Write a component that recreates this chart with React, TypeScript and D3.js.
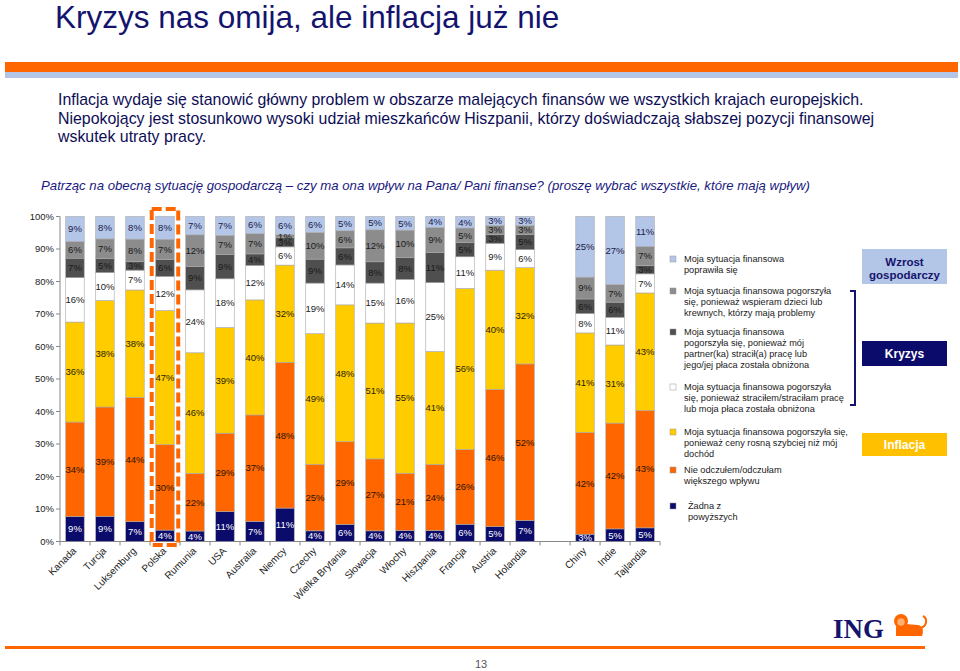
import React from 'react';
import * as d3 from 'd3';

const countries = ["Kanada", "Turcja", "Luksemburg", "Polska", "Rumunia", "USA", "Australia", "Niemcy", "Czechy", "Wielka Brytania", "Słowacja", "Włochy", "Hiszpania", "Francja", "Austria", "Holandia", "Chiny", "Indie", "Tajlandia"];
const slotOrder = ["Kanada", "Turcja", "Luksemburg", "Polska", "Rumunia", "USA", "Australia", "Niemcy", "Czechy", "Wielka Brytania", "Słowacja", "Włochy", "Hiszpania", "Francja", "Austria", "Holandia", "__gap__", "Chiny", "Indie", "Tajlandia"];

const noneOf = [9, 9, 7, 4, 4, 11, 7, 11, 4, 6, 4, 4, 4, 6, 5, 7, 3, 5, 5];
const noImpact = [34, 39, 44, 30, 22, 29, 37, 48, 25, 29, 27, 21, 24, 26, 46, 52, 42, 42, 43];
const inflation = [36, 38, 38, 47, 46, 39, 40, 32, 49, 48, 51, 55, 41, 56, 40, 32, 41, 31, 43];
const jobLoss = [16, 10, 7, 12, 24, 18, 12, 6, 19, 14, 15, 16, 25, 11, 9, 6, 8, 11, 7];
const partnerLoss = [7, 5, 3, 6, 9, 9, 4, 3, 9, 6, 8, 8, 11, 5, 3, 5, 6, 6, 3];
const supportFamily = [6, 7, 8, 7, 12, 7, 7, 1, 10, 6, 12, 10, 9, 5, 3, 3, 9, 7, 7];
const improved = [9, 8, 8, 8, 7, 7, 6, 6, 6, 5, 5, 5, 4, 4, 3, 3, 25, 27, 11];

const seriesKeys = ["noneOf", "noImpact", "inflation", "jobLoss", "partnerLoss", "supportFamily", "improved"];
const seriesValues = [noneOf, noImpact, inflation, jobLoss, partnerLoss, supportFamily, improved];
const seriesColors = ["#0b0b6b", "#ff6600", "#ffcc00", "#ffffff", "#4f4f4f", "#8c8c8c", "#b4c6e7"];
const labelColors = ["#ffffff", "#2a1400", "#2a2200", "#222222", "#1a1a1a", "#1a1a1a", "#1a1a4a"];

const yTicks = [0, 0.1, 0.2, 0.3, 0.4, 0.5, 0.6, 0.7, 0.8, 0.9, 1];

const legendEntries: { s: number; lines: string[] }[] = [
  { s: 6, lines: ["Moja sytuacja finansowa", "poprawiła się"] },
  { s: 5, lines: ["Moja sytuacja finansowa pogorszyła", "się, ponieważ wspieram dzieci lub", "krewnych, którzy mają problemy"] },
  { s: 4, lines: ["Moja sytuacja finansowa", "pogorszyła się, ponieważ mój", "partner(ka) stracił(a) pracę lub", "jego/jej płaca została obniżona"] },
  { s: 3, lines: ["Moja sytuacja finansowa pogorszyła", "się, ponieważ straciłem/straciłam pracę", "lub moja płaca została obniżona"] },
  { s: 2, lines: ["Moja sytuacja finansowa pogorszyła się,", "ponieważ ceny rosną szybciej niż mój", "dochód"] },
  { s: 1, lines: ["Nie odczułem/odczułam", "większego wpływu"] },
  { s: 0, lines: ["Żadna z", "powyższych"] },
];
const legendY = [259, 291, 332, 387, 432, 470, 506];

const title = "Kryzys nas omija, ale inflacja już nie";
const bodyLines = [
  "Inflacja wydaje się stanowić główny problem w obszarze malejących finansów we wszystkich krajach europejskich.",
  "Niepokojący jest stosunkowo wysoki  udział mieszkańców Hiszpanii, którzy doświadczają słabszej pozycji finansowej",
  "wskutek utraty pracy.",
];
const question = "Patrząc na obecną sytuację gospodarczą – czy ma ona wpływ na Pana/ Pani finanse? (proszę wybrać wszystkie, które mają wpływ)";

const FONT = "'Liberation Sans', Arial, Helvetica, sans-serif";

export default function App() {
  const rows = countries.map((c, i) => {
    const r: any = { country: c };
    seriesKeys.forEach((k, j) => (r[k] = seriesValues[j][i]));
    return r;
  });
  const stacked = d3.stack().keys(seriesKeys).offset(d3.stackOffsetExpand)(rows);

  const x = d3.scaleBand().domain(slotOrder).range([60, 660]).paddingInner(0.383).paddingOuter(0.19);
  const y = d3.scaleLinear().domain([0, 1]).range([541.5, 216.5]);
  const bw = x.bandwidth();

  const polskaX = x("Polska")!;

  return (
    <svg width={960} height={671} style={{ position: 'absolute', left: 0, top: 0, background: '#fff' }} fontFamily={FONT}>
      <rect x={0} y={0} width={960} height={671} fill="#fff" />
      <text x={55} y={28} fontSize={31.5} fill="#14146e">{title}</text>
      <rect x={5} y={62} width={953} height={10} fill="#ff6600" />
      <rect x={5} y={72} width={953} height={6} fill="#b4c6e7" />
      {bodyLines.map((l, i) => (
        <text key={i} x={58} y={105 + i * 18.5} fontSize={15.9} fill="#0d0d55">{l}</text>
      ))}
      <text x={41} y={190} fontSize={13.2} fontStyle="italic" fill="#1a1a80">{question}</text>

      {/* y axis */}
      <line x1={60} x2={60} y1={y(0)} y2={y(1)} stroke="#888" strokeWidth={1} />
      {yTicks.map((t) => (
        <g key={t}>
          <line x1={56} x2={60} y1={y(t)} y2={y(t)} stroke="#888" />
          <text x={54} y={y(t)} dy="0.35em" textAnchor="end" fontSize={9.5} fill="#222">{Math.round(t * 100)}%</text>
        </g>
      ))}
      {/* x axis */}
      <line x1={60} x2={660} y1={y(0)} y2={y(0)} stroke="#888" />
      {d3.range(slotOrder.length + 1).map((k) => {
        const xx = 60 + k * x.step();
        return <line key={k} x1={xx} x2={xx} y1={y(0)} y2={y(0) + 4} stroke="#888" />;
      })}

      {/* bars */}
      {stacked.map((layer, si) => (
        <g key={layer.key}>
          {layer.map((d, i) => {
            const c = countries[i];
            const x0 = x(c)!;
            const yt = y(d[1]);
            const yb = y(d[0]);
            return (
              <rect key={c} x={x0} y={yt} width={bw} height={Math.max(0, yb - yt)} fill={seriesColors[si]} stroke="#a8a8a8" strokeWidth={0.6} />
            );
          })}
        </g>
      ))}
      {stacked.map((layer, si) => (
        <g key={'l' + layer.key}>
          {layer.map((d, i) => {
            const c = countries[i];
            const cx = x(c)! + bw / 2;
            const cy = (y(d[0]) + y(d[1])) / 2;
            return (
              <text key={c} x={cx} y={cy} dy="0.35em" textAnchor="middle" fontSize={9.5} fill={labelColors[si]}>
                {seriesValues[si][i]}%
              </text>
            );
          })}
        </g>
      ))}

      {/* x labels */}
      {countries.map((c) => {
        const cx = x(c)! + bw / 2 + 2;
        return (
          <text key={c} transform={`translate(${cx},${y(0) + 10}) rotate(-45)`} textAnchor="end" fontSize={10} fill="#222">{c}</text>
        );
      })}

      {/* Polska highlight */}
      <rect x={polskaX - 4} y={209} width={bw + 8} height={336} fill="none" stroke="#ff6600" strokeWidth={4} strokeDasharray="10 4" />

      {/* legend */}
      {legendEntries.map((e, i) => (
        <g key={i}>
          <rect x={670} y={legendY[i] - 3} width={6} height={6} fill={seriesColors[e.s]} stroke="#999" strokeWidth={0.5} />
          {e.lines.map((l, j) => (
            <text key={j} x={e.s === 0 ? 688 : 684} y={legendY[i] + j * 10.8} dy="0.35em" fontSize={9.2} fill="#1a1a1a">{l}</text>
          ))}
        </g>
      ))}

      {/* right boxes */}
      <rect x={862} y={249} width={85} height={35} fill="#b4c6e7" />
      <text x={904.5} y={262} dy="0.35em" textAnchor="middle" fontSize={11.5} fontWeight="bold" fill="#14146e">Wzrost</text>
      <text x={904.5} y={275} dy="0.35em" textAnchor="middle" fontSize={11.5} fontWeight="bold" fill="#14146e">gospodarczy</text>
      <path d="M850,291 H855 V405 H850" fill="none" stroke="#14146e" strokeWidth={2} />
      <rect x={862} y={341} width={85} height={25} fill="#0b0b6b" />
      <text x={904.5} y={353.5} dy="0.35em" textAnchor="middle" fontSize={12} fontWeight="bold" fill="#fff">Kryzys</text>
      <rect x={862} y={433} width={85} height={23} fill="#ffc000" />
      <text x={904.5} y={444.5} dy="0.35em" textAnchor="middle" fontSize={12} fontWeight="bold" fill="#fff">Inflacja</text>

      {/* footer */}
      <rect x={5} y={646} width={920} height={3} fill="#ff6600" />
      <text x={833} y={638} fontSize={27} fontWeight="bold" fontFamily="'Liberation Serif', 'Times New Roman', serif" fill="#14146e">ING</text>
      <g fill="#ff6600">
        <path d="M896,636 L896,628 C896,624 900,622 905,624 L918,625 C923,626 924,631 922,636 Z" />
        <circle cx={901} cy={621} r={7} />
        <circle cx={901} cy={622} r={3.8} fill="#ffb070" />
        <path d="M921,628 C928,625 927,618 923,616" fill="none" stroke="#ff6600" strokeWidth={2} />
      </g>
      <text x={481} y={668} textAnchor="middle" fontSize={11} fill="#555">13</text>
    </svg>
  );
}
